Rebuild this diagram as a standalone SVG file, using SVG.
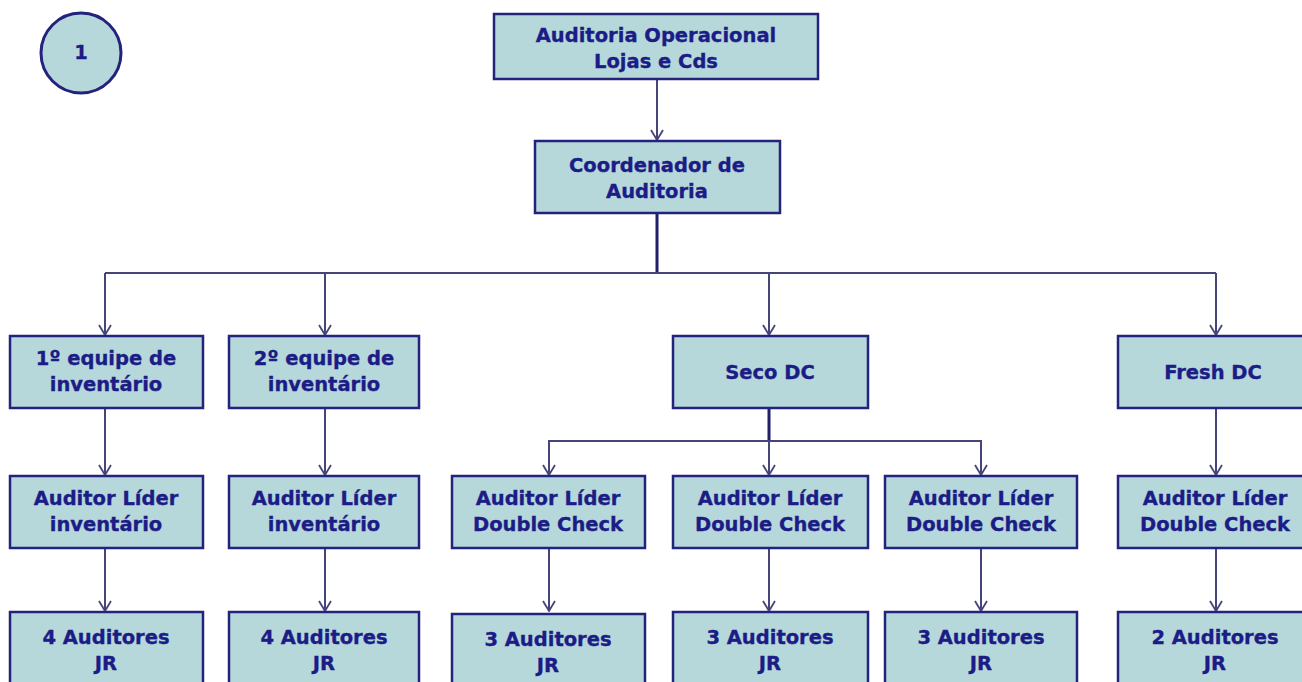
<svg xmlns="http://www.w3.org/2000/svg" width="1302" height="682" viewBox="0 0 1302 682">
  <style>
    .box { fill: #b6d8db; stroke: #23237e; stroke-width: 2.5; }
    .lbl { font-family: "DejaVu Sans", Verdana, sans-serif; font-weight: bold; font-size: 19.5px; fill: #1c1c86; stroke: #1c1c86; stroke-width: 0.35; text-anchor: middle; }
    .wire { fill: none; stroke: #45457a; stroke-width: 2; }
    .trunk { fill: none; stroke: #1f1f6a; stroke-width: 3; }
  </style>
  <defs>
    <marker id="vee" viewBox="0 0 12 14" refX="11" refY="7" markerWidth="12" markerHeight="14" markerUnits="userSpaceOnUse" orient="auto">
      <path d="M1 1 L11 7 L1 13" fill="none" stroke="#45457a" stroke-width="1.8"/>
    </marker>
  </defs>
  <rect width="1302" height="682" fill="#ffffff"/>

  <g id="badge">
    <circle cx="81" cy="53" r="40" fill="#b6d8db" stroke="#23237e" stroke-width="3"/>
    <text class="lbl" x="81" y="59" font-size="17">1</text>
  </g>

  <g id="connectors">
    <line class="wire" x1="657" y1="79" x2="657" y2="140" marker-end="url(#vee)"/>
    <line class="trunk" x1="657" y1="213" x2="657" y2="273"/>
    <line class="wire" x1="105" y1="273" x2="1216" y2="273"/>
    <line class="wire" x1="105" y1="273" x2="105" y2="335" marker-end="url(#vee)"/>
    <line class="wire" x1="325" y1="273" x2="325" y2="335" marker-end="url(#vee)"/>
    <line class="wire" x1="769" y1="273" x2="769" y2="335" marker-end="url(#vee)"/>
    <line class="wire" x1="1216" y1="273" x2="1216" y2="335" marker-end="url(#vee)"/>

    <line class="wire" x1="105" y1="408" x2="105" y2="475" marker-end="url(#vee)"/>
    <line class="wire" x1="325" y1="408" x2="325" y2="475" marker-end="url(#vee)"/>
    <line class="trunk" x1="769" y1="408" x2="769" y2="441"/>
    <polyline class="wire" points="549,475 549,441 981,441 981,475"/>
    <line class="wire" x1="549" y1="460" x2="549" y2="475" marker-end="url(#vee)"/>
    <line class="wire" x1="981" y1="460" x2="981" y2="475" marker-end="url(#vee)"/>
    <line class="wire" x1="769" y1="441" x2="769" y2="475" marker-end="url(#vee)"/>
    <line class="wire" x1="1216" y1="408" x2="1216" y2="475" marker-end="url(#vee)"/>

    <line class="wire" x1="105" y1="548" x2="105" y2="611" marker-end="url(#vee)"/>
    <line class="wire" x1="325" y1="548" x2="325" y2="611" marker-end="url(#vee)"/>
    <line class="wire" x1="549" y1="548" x2="549" y2="611" marker-end="url(#vee)"/>
    <line class="wire" x1="769" y1="548" x2="769" y2="611" marker-end="url(#vee)"/>
    <line class="wire" x1="981" y1="548" x2="981" y2="611" marker-end="url(#vee)"/>
    <line class="wire" x1="1216" y1="548" x2="1216" y2="611" marker-end="url(#vee)"/>
  </g>

  <g id="auditoria-operacional">
    <rect class="box" x="494" y="14" width="324" height="65"/>
    <text class="lbl" x="656" y="42">Auditoria Operacional</text>
    <text class="lbl" x="656" y="68">Lojas e Cds</text>
  </g>

  <g id="coordenador">
    <rect class="box" x="535" y="141" width="245" height="72"/>
    <text class="lbl" x="657" y="172">Coordenador de</text>
    <text class="lbl" x="657" y="198">Auditoria</text>
  </g>

  <g id="equipe-1">
    <rect class="box" x="10" y="336" width="193" height="72"/>
    <text class="lbl" x="106" y="365">1º equipe de</text>
    <text class="lbl" x="106" y="391">inventário</text>
  </g>
  <g id="equipe-2">
    <rect class="box" x="229" y="336" width="190" height="72"/>
    <text class="lbl" x="324" y="365">2º equipe de</text>
    <text class="lbl" x="324" y="391">inventário</text>
  </g>
  <g id="seco-dc">
    <rect class="box" x="673" y="336" width="195" height="72"/>
    <text class="lbl" x="770" y="379">Seco DC</text>
  </g>
  <g id="fresh-dc">
    <rect class="box" x="1118" y="336" width="194" height="72"/>
    <text class="lbl" x="1213" y="379">Fresh DC</text>
  </g>

  <g id="lider-inv-1">
    <rect class="box" x="10" y="476" width="193" height="72"/>
    <text class="lbl" x="106" y="505">Auditor Líder</text>
    <text class="lbl" x="106" y="531">inventário</text>
  </g>
  <g id="lider-inv-2">
    <rect class="box" x="229" y="476" width="190" height="72"/>
    <text class="lbl" x="324" y="505">Auditor Líder</text>
    <text class="lbl" x="324" y="531">inventário</text>
  </g>
  <g id="lider-dc-1">
    <rect class="box" x="452" y="476" width="193" height="72"/>
    <text class="lbl" x="548" y="505">Auditor Líder</text>
    <text class="lbl" x="548" y="531">Double Check</text>
  </g>
  <g id="lider-dc-2">
    <rect class="box" x="673" y="476" width="195" height="72"/>
    <text class="lbl" x="770" y="505">Auditor Líder</text>
    <text class="lbl" x="770" y="531">Double Check</text>
  </g>
  <g id="lider-dc-3">
    <rect class="box" x="885" y="476" width="192" height="72"/>
    <text class="lbl" x="981" y="505">Auditor Líder</text>
    <text class="lbl" x="981" y="531">Double Check</text>
  </g>
  <g id="lider-dc-fresh">
    <rect class="box" x="1118" y="476" width="194" height="72"/>
    <text class="lbl" x="1215" y="505">Auditor Líder</text>
    <text class="lbl" x="1215" y="531">Double Check</text>
  </g>

  <g id="jr-inv-1">
    <rect class="box" x="10" y="612" width="193" height="80"/>
    <text class="lbl" x="106" y="644">4 Auditores</text>
    <text class="lbl" x="106" y="670">JR</text>
  </g>
  <g id="jr-inv-2">
    <rect class="box" x="229" y="612" width="190" height="80"/>
    <text class="lbl" x="324" y="644">4 Auditores</text>
    <text class="lbl" x="324" y="670">JR</text>
  </g>
  <g id="jr-dc-1">
    <rect class="box" x="452" y="614" width="193" height="80"/>
    <text class="lbl" x="548" y="646">3 Auditores</text>
    <text class="lbl" x="548" y="672">JR</text>
  </g>
  <g id="jr-dc-2">
    <rect class="box" x="673" y="612" width="195" height="80"/>
    <text class="lbl" x="770" y="644">3 Auditores</text>
    <text class="lbl" x="770" y="670">JR</text>
  </g>
  <g id="jr-dc-3">
    <rect class="box" x="885" y="612" width="192" height="80"/>
    <text class="lbl" x="981" y="644">3 Auditores</text>
    <text class="lbl" x="981" y="670">JR</text>
  </g>
  <g id="jr-fresh">
    <rect class="box" x="1118" y="612" width="194" height="80"/>
    <text class="lbl" x="1215" y="644">2 Auditores</text>
    <text class="lbl" x="1215" y="670">JR</text>
  </g>
</svg>
